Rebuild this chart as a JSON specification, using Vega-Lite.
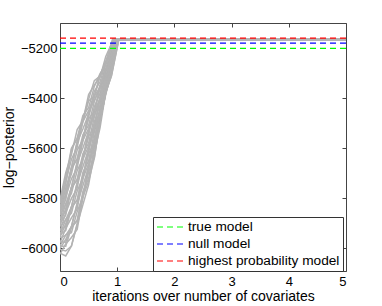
{
  "$schema": "https://vega.github.io/schema/vega-lite/v6.json",
  "width": 286,
  "height": 248,
  "autosize": {"type": "none"},
  "padding": {"left": 60, "top": 23, "right": 36, "bottom": 35},
  "background": "white",
  "config": {
    "font": "Liberation Sans",
    "view": {"stroke": "#444", "strokeWidth": 1},
    "axis": {"labelFont": "Liberation Sans", "titleFont": "Liberation Sans", "labelFontSize": 13, "titleFontSize": 14, "titleFontWeight": "normal", "labelColor": "#000", "titleColor": "#000", "domain": false, "grid": false, "tickColor": "#444", "tickSize": -4}
  },
  "datasets": {
    "traces": [
      {"t":0,"x":0,"y":-5806},{"t":0,"x":0.1,"y":-5698},{"t":0,"x":0.2,"y":-5625},{"t":0,"x":0.3,"y":-5525},{"t":0,"x":0.4,"y":-5491},{"t":0,"x":0.5,"y":-5386},{"t":0,"x":0.6,"y":-5348},{"t":0,"x":0.7,"y":-5316},{"t":0,"x":0.8,"y":-5234},{"t":0,"x":0.9,"y":-5183},{"t":0,"x":0.92,"y":-5163},{"t":0,"x":5,"y":-5163},
      {"t":1,"x":0,"y":-5807},{"t":1,"x":0.1,"y":-5743},{"t":1,"x":0.2,"y":-5604},{"t":1,"x":0.3,"y":-5561},{"t":1,"x":0.4,"y":-5470},{"t":1,"x":0.5,"y":-5438},{"t":1,"x":0.6,"y":-5353},{"t":1,"x":0.7,"y":-5302},{"t":1,"x":0.8,"y":-5266},{"t":1,"x":0.9,"y":-5194},{"t":1,"x":0.93,"y":-5166},{"t":1,"x":5,"y":-5166},
      {"t":2,"x":0,"y":-5839},{"t":2,"x":0.1,"y":-5734},{"t":2,"x":0.2,"y":-5644},{"t":2,"x":0.3,"y":-5596},{"t":2,"x":0.4,"y":-5494},{"t":2,"x":0.5,"y":-5411},{"t":2,"x":0.6,"y":-5393},{"t":2,"x":0.7,"y":-5309},{"t":2,"x":0.8,"y":-5259},{"t":2,"x":0.9,"y":-5205},{"t":2,"x":0.94,"y":-5168},{"t":2,"x":5,"y":-5168},
      {"t":3,"x":0,"y":-5835},{"t":3,"x":0.1,"y":-5789},{"t":3,"x":0.2,"y":-5678},{"t":3,"x":0.3,"y":-5577},{"t":3,"x":0.4,"y":-5523},{"t":3,"x":0.5,"y":-5464},{"t":3,"x":0.6,"y":-5373},{"t":3,"x":0.7,"y":-5335},{"t":3,"x":0.8,"y":-5256},{"t":3,"x":0.9,"y":-5216},{"t":3,"x":0.95,"y":-5165},{"t":3,"x":5,"y":-5165},
      {"t":4,"x":0,"y":-5852},{"t":4,"x":0.1,"y":-5760},{"t":4,"x":0.2,"y":-5703},{"t":4,"x":0.3,"y":-5607},{"t":4,"x":0.4,"y":-5567},{"t":4,"x":0.5,"y":-5456},{"t":4,"x":0.6,"y":-5409},{"t":4,"x":0.7,"y":-5362},{"t":4,"x":0.8,"y":-5264},{"t":4,"x":0.9,"y":-5207},{"t":4,"x":0.95,"y":-5163},{"t":4,"x":5,"y":-5163},
      {"t":5,"x":0,"y":-5853},{"t":5,"x":0.1,"y":-5805},{"t":5,"x":0.2,"y":-5682},{"t":5,"x":0.3,"y":-5643},{"t":5,"x":0.4,"y":-5546},{"t":5,"x":0.5,"y":-5509},{"t":5,"x":0.6,"y":-5414},{"t":5,"x":0.7,"y":-5348},{"t":5,"x":0.8,"y":-5296},{"t":5,"x":0.9,"y":-5218},{"t":5,"x":0.96,"y":-5166},{"t":5,"x":5,"y":-5166},
      {"t":6,"x":0,"y":-5885},{"t":6,"x":0.1,"y":-5796},{"t":6,"x":0.2,"y":-5722},{"t":6,"x":0.3,"y":-5678},{"t":6,"x":0.4,"y":-5570},{"t":6,"x":0.5,"y":-5482},{"t":6,"x":0.6,"y":-5454},{"t":6,"x":0.7,"y":-5355},{"t":6,"x":0.8,"y":-5289},{"t":6,"x":0.9,"y":-5229},{"t":6,"x":0.96,"y":-5168},{"t":6,"x":5,"y":-5168},
      {"t":7,"x":0,"y":-5881},{"t":7,"x":0.1,"y":-5851},{"t":7,"x":0.2,"y":-5756},{"t":7,"x":0.3,"y":-5659},{"t":7,"x":0.4,"y":-5599},{"t":7,"x":0.5,"y":-5534},{"t":7,"x":0.6,"y":-5434},{"t":7,"x":0.7,"y":-5381},{"t":7,"x":0.8,"y":-5286},{"t":7,"x":0.9,"y":-5240},{"t":7,"x":0.97,"y":-5165},{"t":7,"x":5,"y":-5165},
      {"t":8,"x":0,"y":-5898},{"t":8,"x":0.1,"y":-5822},{"t":8,"x":0.2,"y":-5781},{"t":8,"x":0.3,"y":-5689},{"t":8,"x":0.4,"y":-5643},{"t":8,"x":0.5,"y":-5527},{"t":8,"x":0.6,"y":-5470},{"t":8,"x":0.7,"y":-5408},{"t":8,"x":0.8,"y":-5294},{"t":8,"x":0.9,"y":-5231},{"t":8,"x":0.97,"y":-5163},{"t":8,"x":5,"y":-5163},
      {"t":9,"x":0,"y":-5899},{"t":9,"x":0.1,"y":-5867},{"t":9,"x":0.2,"y":-5760},{"t":9,"x":0.3,"y":-5725},{"t":9,"x":0.4,"y":-5622},{"t":9,"x":0.5,"y":-5580},{"t":9,"x":0.6,"y":-5475},{"t":9,"x":0.7,"y":-5394},{"t":9,"x":0.8,"y":-5326},{"t":9,"x":0.9,"y":-5242},{"t":9,"x":0.98,"y":-5166},{"t":9,"x":5,"y":-5166},
      {"t":10,"x":0,"y":-5931},{"t":10,"x":0.1,"y":-5858},{"t":10,"x":0.2,"y":-5800},{"t":10,"x":0.3,"y":-5760},{"t":10,"x":0.4,"y":-5645},{"t":10,"x":0.5,"y":-5552},{"t":10,"x":0.6,"y":-5515},{"t":10,"x":0.7,"y":-5401},{"t":10,"x":0.8,"y":-5319},{"t":10,"x":0.9,"y":-5253},{"t":10,"x":0.98,"y":-5168},{"t":10,"x":5,"y":-5168},
      {"t":11,"x":0,"y":-5927},{"t":11,"x":0.1,"y":-5913},{"t":11,"x":0.2,"y":-5834},{"t":11,"x":0.3,"y":-5741},{"t":11,"x":0.4,"y":-5674},{"t":11,"x":0.5,"y":-5605},{"t":11,"x":0.6,"y":-5495},{"t":11,"x":0.7,"y":-5427},{"t":11,"x":0.8,"y":-5316},{"t":11,"x":0.9,"y":-5264},{"t":11,"x":0.99,"y":-5165},{"t":11,"x":5,"y":-5165},
      {"t":12,"x":0,"y":-5944},{"t":12,"x":0.1,"y":-5884},{"t":12,"x":0.2,"y":-5859},{"t":12,"x":0.3,"y":-5771},{"t":12,"x":0.4,"y":-5718},{"t":12,"x":0.5,"y":-5598},{"t":12,"x":0.6,"y":-5531},{"t":12,"x":0.7,"y":-5454},{"t":12,"x":0.8,"y":-5324},{"t":12,"x":0.9,"y":-5255},{"t":12,"x":0.99,"y":-5163},{"t":12,"x":5,"y":-5163},
      {"t":13,"x":0,"y":-5945},{"t":13,"x":0.1,"y":-5929},{"t":13,"x":0.2,"y":-5838},{"t":13,"x":0.3,"y":-5807},{"t":13,"x":0.4,"y":-5697},{"t":13,"x":0.5,"y":-5650},{"t":13,"x":0.6,"y":-5536},{"t":13,"x":0.7,"y":-5440},{"t":13,"x":0.8,"y":-5356},{"t":13,"x":0.9,"y":-5266},{"t":13,"x":1.0,"y":-5166},{"t":13,"x":5,"y":-5166},
      {"t":14,"x":0,"y":-5977},{"t":14,"x":0.1,"y":-5920},{"t":14,"x":0.2,"y":-5878},{"t":14,"x":0.3,"y":-5842},{"t":14,"x":0.4,"y":-5721},{"t":14,"x":0.5,"y":-5623},{"t":14,"x":0.6,"y":-5576},{"t":14,"x":0.7,"y":-5447},{"t":14,"x":0.8,"y":-5349},{"t":14,"x":0.9,"y":-5277},{"t":14,"x":1.0,"y":-5168},{"t":14,"x":5,"y":-5168},
      {"t":15,"x":0,"y":-5973},{"t":15,"x":0.1,"y":-5975},{"t":15,"x":0.2,"y":-5912},{"t":15,"x":0.3,"y":-5823},{"t":15,"x":0.4,"y":-5750},{"t":15,"x":0.5,"y":-5676},{"t":15,"x":0.6,"y":-5556},{"t":15,"x":0.7,"y":-5473},{"t":15,"x":0.8,"y":-5346},{"t":15,"x":0.9,"y":-5288},{"t":15,"x":1.01,"y":-5165},{"t":15,"x":5,"y":-5165},
      {"t":16,"x":0,"y":-5990},{"t":16,"x":0.1,"y":-5946},{"t":16,"x":0.2,"y":-5937},{"t":16,"x":0.3,"y":-5853},{"t":16,"x":0.4,"y":-5794},{"t":16,"x":0.5,"y":-5668},{"t":16,"x":0.6,"y":-5592},{"t":16,"x":0.7,"y":-5500},{"t":16,"x":0.8,"y":-5354},{"t":16,"x":0.9,"y":-5279},{"t":16,"x":1.01,"y":-5163},{"t":16,"x":5,"y":-5163},
      {"t":17,"x":0,"y":-5991},{"t":17,"x":0.1,"y":-5991},{"t":17,"x":0.2,"y":-5916},{"t":17,"x":0.3,"y":-5889},{"t":17,"x":0.4,"y":-5773},{"t":17,"x":0.5,"y":-5721},{"t":17,"x":0.6,"y":-5597},{"t":17,"x":0.7,"y":-5486},{"t":17,"x":0.8,"y":-5386},{"t":17,"x":0.9,"y":-5290},{"t":17,"x":1.02,"y":-5166},{"t":17,"x":5,"y":-5166},
      {"t":18,"x":0,"y":-6023},{"t":18,"x":0.1,"y":-5982},{"t":18,"x":0.2,"y":-5956},{"t":18,"x":0.3,"y":-5924},{"t":18,"x":0.4,"y":-5797},{"t":18,"x":0.5,"y":-5694},{"t":18,"x":0.6,"y":-5637},{"t":18,"x":0.7,"y":-5493},{"t":18,"x":0.8,"y":-5379},{"t":18,"x":0.9,"y":-5301},{"t":18,"x":1.02,"y":-5168},{"t":18,"x":5,"y":-5168},
      {"t":19,"x":0,"y":-6019},{"t":19,"x":0.1,"y":-6030},{"t":19,"x":0.2,"y":-5990},{"t":19,"x":0.3,"y":-5905},{"t":19,"x":0.4,"y":-5826},{"t":19,"x":0.5,"y":-5746},{"t":19,"x":0.6,"y":-5617},{"t":19,"x":0.7,"y":-5519},{"t":19,"x":0.8,"y":-5376},{"t":19,"x":0.9,"y":-5312},{"t":19,"x":1.03,"y":-5165},{"t":19,"x":5,"y":-5165},
      {"t":20,"x":0,"y":-5817},{"t":20,"x":0.1,"y":-5716},{"t":20,"x":0.2,"y":-5600},{"t":20,"x":0.3,"y":-5561},{"t":20,"x":0.4,"y":-5486},{"t":20,"x":0.5,"y":-5405},{"t":20,"x":0.6,"y":-5330},{"t":20,"x":0.7,"y":-5312},{"t":20,"x":0.8,"y":-5253},{"t":20,"x":0.9,"y":-5181},{"t":20,"x":0.925,"y":-5164},{"t":20,"x":5,"y":-5164},
      {"t":21,"x":0,"y":-5820},{"t":21,"x":0.1,"y":-5762},{"t":21,"x":0.2,"y":-5679},{"t":21,"x":0.3,"y":-5572},{"t":21,"x":0.4,"y":-5494},{"t":21,"x":0.5,"y":-5450},{"t":21,"x":0.6,"y":-5396},{"t":21,"x":0.7,"y":-5310},{"t":21,"x":0.8,"y":-5258},{"t":21,"x":0.9,"y":-5213},{"t":21,"x":0.94,"y":-5167},{"t":21,"x":5,"y":-5167},
      {"t":22,"x":0,"y":-5863},{"t":22,"x":0.1,"y":-5778},{"t":22,"x":0.2,"y":-5678},{"t":22,"x":0.3,"y":-5643},{"t":22,"x":0.4,"y":-5562},{"t":22,"x":0.5,"y":-5475},{"t":22,"x":0.6,"y":-5391},{"t":22,"x":0.7,"y":-5358},{"t":22,"x":0.8,"y":-5283},{"t":22,"x":0.9,"y":-5205},{"t":22,"x":0.95,"y":-5164},{"t":22,"x":5,"y":-5164},
      {"t":23,"x":0,"y":-5866},{"t":23,"x":0.1,"y":-5824},{"t":23,"x":0.2,"y":-5757},{"t":23,"x":0.3,"y":-5654},{"t":23,"x":0.4,"y":-5569},{"t":23,"x":0.5,"y":-5521},{"t":23,"x":0.6,"y":-5457},{"t":23,"x":0.7,"y":-5356},{"t":23,"x":0.8,"y":-5288},{"t":23,"x":0.9,"y":-5237},{"t":23,"x":0.965,"y":-5167},{"t":23,"x":5,"y":-5167},
      {"t":24,"x":0,"y":-5909},{"t":24,"x":0.1,"y":-5840},{"t":24,"x":0.2,"y":-5756},{"t":24,"x":0.3,"y":-5725},{"t":24,"x":0.4,"y":-5637},{"t":24,"x":0.5,"y":-5546},{"t":24,"x":0.6,"y":-5452},{"t":24,"x":0.7,"y":-5404},{"t":24,"x":0.8,"y":-5313},{"t":24,"x":0.9,"y":-5229},{"t":24,"x":0.975,"y":-5164},{"t":24,"x":5,"y":-5164},
      {"t":25,"x":0,"y":-5912},{"t":25,"x":0.1,"y":-5886},{"t":25,"x":0.2,"y":-5835},{"t":25,"x":0.3,"y":-5736},{"t":25,"x":0.4,"y":-5645},{"t":25,"x":0.5,"y":-5591},{"t":25,"x":0.6,"y":-5518},{"t":25,"x":0.7,"y":-5402},{"t":25,"x":0.8,"y":-5318},{"t":25,"x":0.9,"y":-5261},{"t":25,"x":0.985,"y":-5167},{"t":25,"x":5,"y":-5167},
      {"t":26,"x":0,"y":-5955},{"t":26,"x":0.1,"y":-5902},{"t":26,"x":0.2,"y":-5834},{"t":26,"x":0.3,"y":-5807},{"t":26,"x":0.4,"y":-5713},{"t":26,"x":0.5,"y":-5617},{"t":26,"x":0.6,"y":-5513},{"t":26,"x":0.7,"y":-5450},{"t":26,"x":0.8,"y":-5343},{"t":26,"x":0.9,"y":-5253},{"t":26,"x":0.995,"y":-5164},{"t":26,"x":5,"y":-5164},
      {"t":27,"x":0,"y":-5958},{"t":27,"x":0.1,"y":-5948},{"t":27,"x":0.2,"y":-5913},{"t":27,"x":0.3,"y":-5818},{"t":27,"x":0.4,"y":-5721},{"t":27,"x":0.5,"y":-5662},{"t":27,"x":0.6,"y":-5579},{"t":27,"x":0.7,"y":-5448},{"t":27,"x":0.8,"y":-5348},{"t":27,"x":0.9,"y":-5285},{"t":27,"x":1.005,"y":-5167},{"t":27,"x":5,"y":-5167},
      {"t":28,"x":0,"y":-6001},{"t":28,"x":0.1,"y":-5964},{"t":28,"x":0.2,"y":-5912},{"t":28,"x":0.3,"y":-5889},{"t":28,"x":0.4,"y":-5788},{"t":28,"x":0.5,"y":-5687},{"t":28,"x":0.6,"y":-5574},{"t":28,"x":0.7,"y":-5496},{"t":28,"x":0.8,"y":-5373},{"t":28,"x":0.9,"y":-5277},{"t":28,"x":1.015,"y":-5164},{"t":28,"x":5,"y":-5164},
      {"t":29,"x":0,"y":-6004},{"t":29,"x":0.1,"y":-6010},{"t":29,"x":0.2,"y":-5991},{"t":29,"x":0.3,"y":-5900},{"t":29,"x":0.4,"y":-5796},{"t":29,"x":0.5,"y":-5732},{"t":29,"x":0.6,"y":-5640},{"t":29,"x":0.7,"y":-5494},{"t":29,"x":0.8,"y":-5378},{"t":29,"x":0.9,"y":-5309},{"t":29,"x":1.025,"y":-5167},{"t":29,"x":5,"y":-5167}
    ],
    "models": [
      {"model": "true model", "lp": -5201},
      {"model": "null model", "lp": -5180},
      {"model": "highest probability model", "lp": -5160}
    ]
  },
  "resolve": {"axis": {"x": "independent", "y": "independent"}},
  "layer": [
    {
      "data": {"name": "traces"},
      "mark": {"type": "line", "color": "#b3b3b3", "strokeWidth": 1.5, "clip": true},
      "encoding": {
        "x": {"field": "x", "type": "quantitative", "scale": {"domain": [0, 5], "nice": false}, "axis": {"values": [0, 1, 2, 3, 4, 5], "format": "d", "title": "iterations over number of covariates", "labelPadding": 8, "titlePadding": 1}},
        "y": {"field": "y", "type": "quantitative", "scale": {"domain": [-6090, -5100], "nice": false, "zero": false}, "axis": {"values": [-6000, -5800, -5600, -5400, -5200], "format": "d", "title": "log−posterior", "labelPadding": 7, "titlePadding": 4}},
        "detail": {"field": "t", "type": "nominal"}
      }
    },
    {
      "data": {"name": "models"},
      "mark": {"type": "rule", "strokeDash": [6, 4], "strokeWidth": 1.2},
      "encoding": {
        "x": {"datum": 0, "type": "quantitative", "axis": {"orient": "top", "values": [0, 1, 2, 3, 4, 5], "labels": false, "title": null}},
        "x2": {"datum": 5},
        "y": {"field": "lp", "type": "quantitative", "axis": {"orient": "right", "values": [-6000, -5800, -5600, -5400, -5200], "labels": false, "title": null}},
        "color": {
          "field": "model", "type": "nominal",
          "scale": {"domain": ["true model", "null model", "highest probability model"], "range": ["#00ff00", "#0000ff", "#ff0000"]},
          "legend": {"title": null, "orient": "none", "legendX": 93, "legendY": 194, "fillColor": "white", "strokeColor": "#333", "padding": 3, "symbolType": "M-1,0H3.5", "symbolDash": [6, 4], "symbolSize": 144, "symbolStrokeWidth": 1.2, "labelFontSize": 13.7, "labelFont": "Liberation Sans", "labelColor": "#000", "labelOffset": 18, "rowPadding": 3}
        }
      }
    }
  ]
}
